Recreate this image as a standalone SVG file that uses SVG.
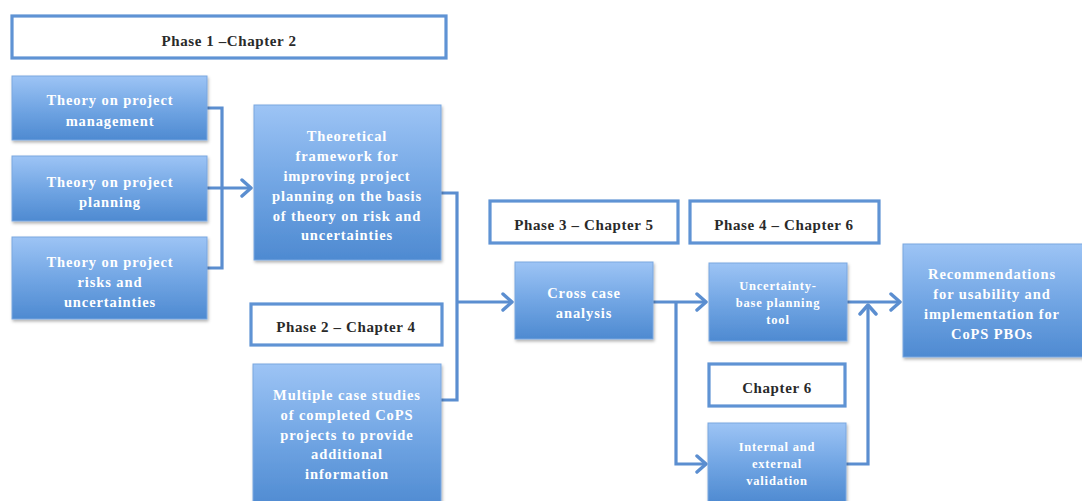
<svg xmlns="http://www.w3.org/2000/svg" width="1082" height="501" viewBox="0 0 1082 501">
  <defs>
    <linearGradient id="boxFill" x1="0" y1="0" x2="0" y2="1">
      <stop offset="0" stop-color="#9dc4f5"/>
      <stop offset="0.5" stop-color="#72a6e4"/>
      <stop offset="1" stop-color="#4e8ad1"/>
    </linearGradient>
    <filter id="shadow" x="-10%" y="-10%" width="125%" height="130%">
      <feDropShadow dx="1" dy="2" stdDeviation="1.5" flood-color="#000" flood-opacity="0.3"/>
    </filter>
    <marker id="arrow" markerWidth="14" markerHeight="20" refX="11" refY="10" orient="auto" markerUnits="userSpaceOnUse">
      <polyline points="2,2 11,10 2,18" fill="none" stroke="#5b8ed0" stroke-width="3.4" stroke-linecap="round" stroke-linejoin="round"/>
    </marker>
  </defs>
  <style>
    .label { fill: #ffffff; stroke: #5f93d4; stroke-width: 3.2; }
    .box { fill: url(#boxFill); stroke: #7aa7e0; stroke-width: 1; filter: url(#shadow); }
    .ltxt { font-family: "Liberation Serif", serif; font-weight: bold; font-size: 15px; fill: #2a2a2a; text-anchor: middle; letter-spacing: 0.6px; }
    .btxt { font-family: "Liberation Serif", serif; font-weight: bold; font-size: 14.5px; fill: #ffffff; text-anchor: middle; letter-spacing: 0.9px; }
    .stxt { font-family: "Liberation Serif", serif; font-weight: bold; font-size: 12.5px; fill: #ffffff; text-anchor: middle; letter-spacing: 0.8px; }
    .conn { fill: none; stroke: #5b8ed0; stroke-width: 3.2; stroke-linejoin: miter; }
  </style>

  <rect width="1082" height="501" fill="#ffffff"/>

  <!-- connectors -->
  <g id="connectors">
    <polyline class="conn" points="207,108 222,108 222,268 207,268"/>
    <polyline class="conn" points="207,188 251,188" marker-end="url(#arrow)"/>
    <polyline class="conn" points="441,193 457,193 457,400 441,400"/>
    <polyline class="conn" points="457,302 512,302" marker-end="url(#arrow)"/>
    <polyline class="conn" points="653,302 706,302" marker-end="url(#arrow)"/>
    <polyline class="conn" points="676,302 676,464 706,464" marker-end="url(#arrow)"/>
    <polyline class="conn" points="847,302 900,302" marker-end="url(#arrow)"/>
    <polyline class="conn" points="846,464 868,464 868,305" marker-end="url(#arrow)"/>
  </g>

  <g id="phase1">
    <rect class="label" x="12" y="16" width="434" height="42"/>
    <text class="ltxt" x="229" y="46">Phase 1 –Chapter 2</text>
  </g>

  <g id="theory-management">
    <rect class="box" x="12" y="76" width="195" height="64"/>
    <text class="btxt" x="110" y="105">Theory on project</text>
    <text class="btxt" x="110" y="126">management</text>
  </g>

  <g id="theory-planning">
    <rect class="box" x="12" y="156" width="195" height="65"/>
    <text class="btxt" x="110" y="187">Theory on project</text>
    <text class="btxt" x="110" y="207">planning</text>
  </g>

  <g id="theory-risks">
    <rect class="box" x="12" y="237" width="195" height="82"/>
    <text class="btxt" x="110" y="267">Theory on project</text>
    <text class="btxt" x="110" y="287">risks and</text>
    <text class="btxt" x="110" y="307">uncertainties</text>
  </g>

  <g id="framework">
    <rect class="box" x="254" y="105" width="187" height="155"/>
    <text class="btxt" x="347" y="141">Theoretical</text>
    <text class="btxt" x="347" y="161">framework for</text>
    <text class="btxt" x="347" y="181">improving project</text>
    <text class="btxt" x="347" y="201">planning on the basis</text>
    <text class="btxt" x="347" y="221">of theory on risk and</text>
    <text class="btxt" x="347" y="240">uncertainties</text>
  </g>

  <g id="phase2">
    <rect class="label" x="251" y="304" width="191" height="41"/>
    <text class="ltxt" x="346" y="332">Phase 2 – Chapter 4</text>
  </g>

  <g id="case-studies">
    <rect class="box" x="253" y="364" width="188" height="145"/>
    <text class="btxt" x="347" y="400">Multiple case studies</text>
    <text class="btxt" x="347" y="420">of completed CoPS</text>
    <text class="btxt" x="347" y="440">projects to provide</text>
    <text class="btxt" x="347" y="459">additional</text>
    <text class="btxt" x="347" y="479">information</text>
  </g>

  <g id="phase3">
    <rect class="label" x="490" y="201" width="188" height="42"/>
    <text class="ltxt" x="584" y="230">Phase 3 – Chapter 5</text>
  </g>

  <g id="phase4">
    <rect class="label" x="690" y="201" width="189" height="42"/>
    <text class="ltxt" x="784" y="230">Phase 4 – Chapter 6</text>
  </g>

  <g id="cross-case">
    <rect class="box" x="515" y="262" width="138" height="77"/>
    <text class="btxt" x="584" y="298">Cross case</text>
    <text class="btxt" x="584" y="318">analysis</text>
  </g>

  <g id="planning-tool">
    <rect class="box" x="709" y="263" width="138" height="78"/>
    <text class="stxt" x="778" y="290">Uncertainty-</text>
    <text class="stxt" x="778" y="307">base planning</text>
    <text class="stxt" x="778" y="324">tool</text>
  </g>

  <g id="chapter6">
    <rect class="label" x="709" y="364" width="136" height="42"/>
    <text class="ltxt" x="777" y="393">Chapter 6</text>
  </g>

  <g id="validation">
    <rect class="box" x="708" y="423" width="138" height="80"/>
    <text class="stxt" x="777" y="451">Internal and</text>
    <text class="stxt" x="777" y="468">external</text>
    <text class="stxt" x="777" y="485">validation</text>
  </g>

  <g id="recommendations">
    <rect class="box" x="903" y="244" width="185" height="113"/>
    <text class="btxt" x="992" y="279">Recommendations</text>
    <text class="btxt" x="992" y="299">for usability and</text>
    <text class="btxt" x="992" y="319">implementation for</text>
    <text class="btxt" x="992" y="339">CoPS PBOs</text>
  </g>
</svg>
